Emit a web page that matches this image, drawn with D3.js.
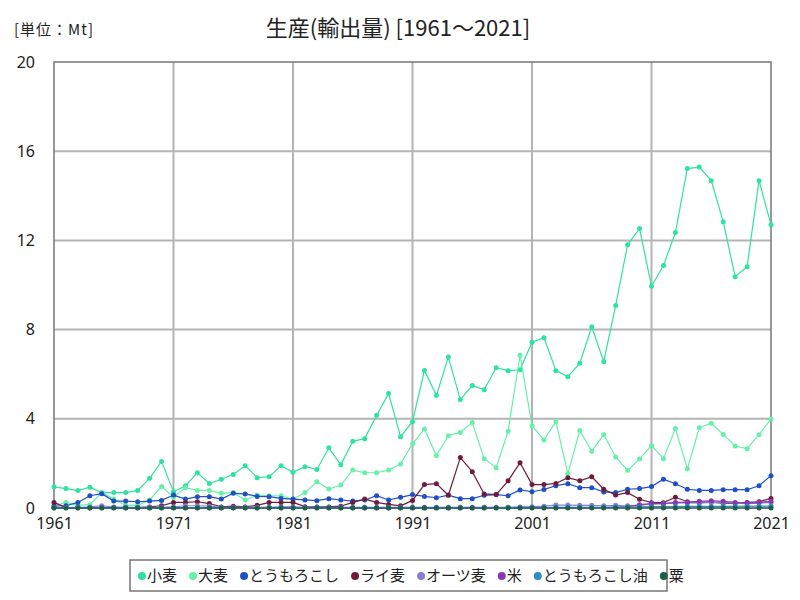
<!DOCTYPE html>
<html><head><meta charset="utf-8">
<script src="https://cdn.jsdelivr.net/npm/d3@7"></script>
<style>body{margin:0;background:#fff;}svg{display:block;font-family:"Noto Sans CJK JP","Noto Sans",sans-serif;}</style>
</head><body><svg id="c" width="800" height="600"></svg>
<script>
const years = d3.range(1961, 2022);
const seriesNames = ["小麦","大麦","とうもろこし","ライ麦","オーツ麦","米","とうもろこし油","粟"];
const seriesColors = ["#2ee3a0","#66f0a8","#1f4fc6","#6e1c3e","#8a7fd2","#8a36b2","#2a8ccc","#1f5e48"];
const xTicks = [1961,1971,1981,1991,2001,2011,2021];
const yTicks = [0,4,8,12,16,20];
const wheat = [0.95,0.87,0.78,0.93,0.69,0.69,0.69,0.79,1.33,2.09,
 0.73,1.0,1.58,1.1,1.29,1.5,1.9,1.36,1.4,1.9,
 1.6,1.85,1.73,2.7,1.94,2.99,3.11,4.16,5.13,3.2,
 3.87,6.17,5.04,6.77,4.86,5.49,5.3,6.29,6.16,6.2,
 7.43,7.64,6.16,5.89,6.49,8.13,6.56,9.08,11.81,12.53,
 9.94,10.87,12.35,15.22,15.29,14.68,12.84,10.37,10.82,14.68,12.7];
const barley = [0.1,0.25,0.12,0.16,0.69,0.4,0.12,0.12,0.36,0.96,
 0.48,0.91,0.79,0.79,0.66,0.69,0.36,0.58,0.55,0.55,
 0.39,0.69,1.18,0.85,1.03,1.7,1.58,1.58,1.7,1.97,
 2.88,3.54,2.35,3.24,3.39,3.83,2.21,1.81,3.44,6.85,
 3.69,3.05,3.87,1.54,3.47,2.55,3.29,2.29,1.69,2.2,
 2.8,2.21,3.56,1.75,3.6,3.8,3.3,2.78,2.66,3.29,3.99];
const corn = [0.09,0.1,0.25,0.55,0.64,0.31,0.31,0.28,0.31,0.34,
 0.58,0.4,0.51,0.51,0.4,0.66,0.63,0.52,0.51,0.43,
 0.4,0.36,0.33,0.42,0.36,0.31,0.36,0.55,0.36,0.48,
 0.6,0.52,0.46,0.58,0.42,0.42,0.57,0.6,0.55,0.81,
 0.73,0.83,1.0,1.09,0.91,0.91,0.72,0.69,0.84,0.87,
 0.96,1.29,1.09,0.84,0.79,0.79,0.82,0.82,0.82,1.0,1.45];
const rye = [0.25,0.02,0.02,0.02,0.02,0.02,0.02,0.02,0.05,0.1,
 0.25,0.25,0.28,0.2,0.05,0.08,0.05,0.12,0.25,0.25,
 0.25,0.06,0.05,0.05,0.08,0.25,0.4,0.25,0.16,0.1,
 0.34,1.05,1.09,0.57,2.26,1.63,0.63,0.6,1.22,2.03,
 1.05,1.05,1.1,1.36,1.22,1.4,0.84,0.58,0.69,0.39,
 0.24,0.24,0.48,0.28,0.25,0.27,0.21,0.21,0.25,0.28,0.43];
const oats = [0.02,0.02,0.02,0.05,0.1,0.05,0.03,0.03,0.03,0.03,
 0.05,0.1,0.1,0.08,0.03,0.03,0.03,0.03,0.03,0.05,
 0.05,0.03,0.03,0.03,0.03,0.03,0.03,0.03,0.03,0.03,
 0.03,0.03,0.03,0.03,0.03,0.03,0.03,0.03,0.03,0.05,
 0.06,0.08,0.13,0.13,0.12,0.12,0.1,0.12,0.1,0.12,
 0.18,0.2,0.22,0.24,0.22,0.25,0.24,0.22,0.2,0.22,0.25];
const rice = [0.01,0.01,0.01,0.01,0.01,0.01,0.01,0.01,0.01,0.01,
 0.01,0.01,0.01,0.01,0.01,0.01,0.01,0.01,0.01,0.01,
 0.01,0.01,0.01,0.01,0.01,0.01,0.01,0.01,0.01,0.01,
 0.01,0.01,0.01,0.01,0.01,0.01,0.01,0.01,0.01,0.01,
 0.01,0.01,0.01,0.01,0.01,0.02,0.02,0.03,0.05,0.15,
 0.2,0.2,0.25,0.25,0.3,0.32,0.3,0.25,0.22,0.25,0.3];
const cornOil = [0.01,0.01,0.01,0.01,0.01,0.01,0.01,0.01,0.01,0.01,
 0.01,0.01,0.01,0.01,0.01,0.01,0.01,0.01,0.01,0.01,
 0.01,0.01,0.01,0.01,0.01,0.01,0.01,0.01,0.01,0.01,
 0.01,0.01,0.01,0.01,0.01,0.01,0.01,0.01,0.01,0.02,
 0.02,0.02,0.03,0.03,0.03,0.03,0.03,0.04,0.04,0.05,
 0.06,0.06,0.06,0.07,0.07,0.07,0.07,0.07,0.08,0.08,0.08];
const millet = years.map(()=>0);
const seriesValues = [wheat,barley,corn,rye,oats,rice,cornOil,millet];

const svg = d3.select("#c");
const L=54,R=771,T=62,B=508;
const x = d3.scaleLinear().domain([1961,2021]).range([L,R]);
const y = d3.scaleLinear().domain([0,20]).range([B,T]);

// grid
svg.append("g").selectAll("line").data(yTicks.filter(v=>v>0&&v<20)).join("line")
  .attr("x1",L).attr("x2",R).attr("y1",d=>y(d)).attr("y2",d=>y(d))
  .attr("stroke","#b4b4b4").attr("stroke-width",2);
svg.append("g").selectAll("line").data(xTicks.filter(v=>v>1961&&v<2021)).join("line")
  .attr("y1",T).attr("y2",B).attr("x1",d=>x(d)).attr("x2",d=>x(d))
  .attr("stroke","#b4b4b4").attr("stroke-width",2);
// border
svg.append("rect").attr("x",L).attr("y",T).attr("width",R-L).attr("height",B-T)
  .attr("fill","none").attr("stroke","#777").attr("stroke-width",1.5);

// axes
const yAxis = d3.axisLeft(y).tickValues(yTicks).tickSize(0).tickPadding(19);
const gy = svg.append("g").attr("transform",`translate(${L},0)`).call(yAxis);
gy.select(".domain").remove();
gy.selectAll("text").attr("font-size",16).attr("fill","#222").attr("font-family","Liberation Sans Narrow, Noto Sans, sans-serif");
const xAxis = d3.axisBottom(x).tickValues(xTicks).tickFormat(d3.format("d")).tickSize(0).tickPadding(10);
const gx = svg.append("g").attr("transform",`translate(0,${B})`).call(xAxis);
gx.select(".domain").remove();
gx.selectAll("text").attr("font-size",16).attr("fill","#222").attr("font-family","Liberation Sans Narrow, Noto Sans, sans-serif");

// series
const line = d3.line().x((d,i)=>x(years[i])).y(d=>y(d));
seriesValues.forEach((vals,k)=>{
  const g = svg.append("g");
  g.append("path").datum(vals).attr("d",line).attr("fill","none")
    .attr("stroke",seriesColors[k]).attr("stroke-width",1.2);
  g.selectAll("circle").data(vals).join("circle")
    .attr("cx",(d,i)=>x(years[i])).attr("cy",d=>y(d)).attr("r",2.5)
    .attr("fill",seriesColors[k]);
});

// titles
svg.append("text").attr("x",398).attr("y",36).attr("text-anchor","middle")
  .attr("font-size",22).attr("fill","#222").text("生産(輸出量) [1961～2021]");
svg.append("text").attr("x",14).attr("y",35)
  .attr("font-size",15).attr("fill","#222").attr("letter-spacing",1).text("[単位：Mt]");

// legend
const lg = svg.append("g");
lg.append("rect").attr("x",130).attr("y",560).attr("width",537).attr("height",31)
  .attr("fill","#fff").attr("stroke","#777").attr("stroke-width",1.5);
let lx = 138;
seriesNames.forEach((n,k)=>{
  lg.append("circle").attr("cx",lx+4).attr("cy",576).attr("r",4).attr("fill",seriesColors[k]);
  const t = lg.append("text").attr("x",lx+9).attr("y",581).attr("font-size",15).attr("fill","#222").text(n);
  lx += 9 + t.node().getComputedTextLength() + 12;
});
</script></body></html>
